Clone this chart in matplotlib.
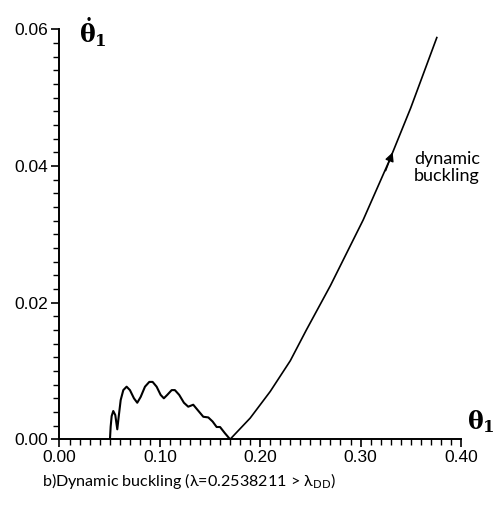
import matplotlib
matplotlib.use("Agg")
import matplotlib.pyplot as plt
from matplotlib.ticker import MultipleLocator, FormatStrFormatter

plt.rcParams["mathtext.fontset"] = "dejavuserif"

# Phase trajectory: oscillating part before the return to theta_dot = 0
theta_osc = [0.0503, 0.0510, 0.0520, 0.0536, 0.0556, 0.0576, 0.0590, 0.0610,
             0.0636, 0.0669, 0.0702, 0.0742, 0.0775, 0.0809, 0.0852, 0.0895,
             0.0928, 0.0968, 0.1008, 0.1040, 0.1074, 0.1118, 0.1150, 0.1193,
             0.1240, 0.1283, 0.1333, 0.1376, 0.1433, 0.1483, 0.1526, 0.1566,
             0.1600, 0.1648, 0.1700]
rate_osc = [0.0, 0.00185, 0.0034, 0.00414, 0.00355, 0.00146, 0.0033, 0.00575,
            0.0072, 0.0077, 0.0072, 0.0060, 0.00535, 0.0062, 0.0077, 0.0084,
            0.0084, 0.0077, 0.0065, 0.0060, 0.0065, 0.0072, 0.0072, 0.0065,
            0.00535, 0.00477, 0.00506, 0.0043, 0.0033, 0.0032, 0.0026, 0.0018,
            0.0018, 0.0009, 0.0]

# Runaway branch after buckling
theta_run = [0.170, 0.190, 0.210, 0.230, 0.246, 0.270, 0.3026, 0.329, 0.350, 0.376]
rate_run = [0.0, 0.0031, 0.0070, 0.0115, 0.0160, 0.0225, 0.0321, 0.0409, 0.0485, 0.0588]

x_ticks = [0.00, 0.10, 0.20, 0.30, 0.40]
y_ticks = [0.00, 0.02, 0.04, 0.06]
caption = "b)Dynamic buckling (λ=0.2538211 > λ$_{\\mathsf{DD}}$)"

fig = plt.figure(figsize=(4.94, 5.15), dpi=100)
ax = fig.add_axes([0.1204, 0.1470, 0.8126, 0.7960])

ax.plot(theta_osc, rate_osc, color="black", lw=1.5, solid_joinstyle="round")
ax.plot(theta_run, rate_run, color="black", lw=1.2)

# direction arrow on the runaway branch
ax.annotate("", xy=(theta_run[7] + 0.003, rate_run[7] + 0.0011),
            xytext=(theta_run[7] - 0.004, rate_run[7] - 0.0016),
            arrowprops=dict(arrowstyle="-|>", color="black", lw=1.0,
                            mutation_scale=13, shrinkA=0, shrinkB=0))
ax.text(0.386, 0.0422, "dynamic\nbuckling", fontsize=13, family="Lato",
        ha="center", va="top", linespacing=1.1)

ax.set_xlim(0.0, 0.40)
ax.set_ylim(0.0, 0.06)
ax.set_xticks(x_ticks)
ax.set_yticks(y_ticks)
ax.xaxis.set_major_formatter(FormatStrFormatter("%.2f"))
ax.yaxis.set_major_formatter(FormatStrFormatter("%.2f"))
ax.xaxis.set_minor_locator(MultipleLocator(0.01))
ax.yaxis.set_minor_locator(MultipleLocator(0.002))
ax.tick_params(which="major", direction="out", length=6, width=1.2,
               labelsize=12.5, pad=2)
ax.tick_params(which="minor", direction="out", length=4, width=1.0)
for lab in ax.get_xticklabels() + ax.get_yticklabels():
    lab.set_family("Liberation Sans")

for side in ("top", "right"):
    ax.spines[side].set_visible(False)
for side in ("left", "bottom"):
    ax.spines[side].set_linewidth(1.4)

fig.text(0.160, 0.938, r"$\mathbf{\dot{\theta}_1}$", fontsize=17,
         ha="left", va="center")
fig.text(0.946, 0.182, r"$\mathbf{\theta_1}$", fontsize=17,
         ha="left", va="center")

fig.text(0.085, 0.066, caption, fontsize=11.6, family="Lato",
         ha="left", va="center")

fig.savefig("out.png", dpi=100, facecolor="white")
